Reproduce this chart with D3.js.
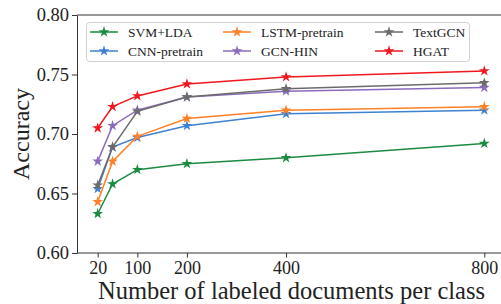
<!DOCTYPE html>
<html>
<head>
<meta charset="utf-8">
<script src="https://d3js.org/d3.v7.min.js"></script>
<style>
  body { margin:0; background:#fff; overflow:hidden; }
  text { font-family: "Liberation Serif", "Times New Roman", serif; }
  .axis path, .axis line { stroke:#333; }
</style>
</head>
<body>
<script>
var sizes = [20, 50, 100, 200, 400, 800];
var xTicks = [20, 100, 200, 400, 800];
var yTicks = [0.60, 0.65, 0.70, 0.75, 0.80];
var names = ["SVM+LDA", "CNN-pretrain", "LSTM-pretrain", "GCN-HIN", "TextGCN", "HGAT"];
var colors = ["#1b8a42", "#3f82cf", "#ff8127", "#8b6bbd", "#6b6b6b", "#f2161f"];
var svmLda   = [0.633, 0.658, 0.670, 0.675, 0.680, 0.692];
var cnnPre   = [0.654, 0.689, 0.697, 0.707, 0.717, 0.720];
var lstmPre  = [0.643, 0.677, 0.698, 0.713, 0.720, 0.723];
var gcnHin   = [0.677, 0.707, 0.720, 0.731, 0.736, 0.739];
var textGcn  = [0.657, 0.689, 0.719, 0.731, 0.738, 0.743];
var hgat     = [0.705, 0.723, 0.732, 0.742, 0.748, 0.753];
var series = [svmLda, cnnPre, lstmPre, gcnHin, textGcn, hgat];

var W = 501, H = 304;
var svg = d3.select("body").append("svg").attr("width", W).attr("height", H);

var x = d3.scaleLinear().domain([20, 800]).range([97.7, 484.3]);
var y = d3.scaleLinear().domain([0.60, 0.80]).range([253, 15]);
var left = 77, right = 510;

var g = svg.append("g");

// axes
g.append("g").attr("class", "axis")
  .attr("transform", "translate(0,253)")
  .call(d3.axisBottom(x).tickValues(xTicks).tickSize(4.5).tickPadding(4).tickSizeOuter(0))
  .call(function(a) {
    a.select(".domain").attr("d", "M" + left + ",0H" + right);
    a.selectAll("text").attr("font-size", 18).attr("fill", "#222");
  });
g.append("g").attr("class", "axis")
  .attr("transform", "translate(" + left + ",0)")
  .call(d3.axisLeft(y).tickValues(yTicks).tickFormat(d3.format(".2f")).tickSize(5).tickPadding(3).tickSizeOuter(0))
  .call(function(a) {
    a.selectAll("text").attr("font-size", 18.5).attr("fill", "#222");
  });
g.append("line").attr("x1", left).attr("x2", right).attr("y1", 15).attr("y2", 15).attr("stroke", "#333");

// star symbol
var star = d3.symbol().type(d3.symbolStar).size(36);

series.forEach(function(vals, i) {
  var pts = sizes.map(function(s, j) { return [s, vals[j]]; });
  g.append("path")
    .attr("d", d3.line().x(function(d) { return x(d[0]); }).y(function(d) { return y(d[1]); })(pts))
    .attr("fill", "none").attr("stroke", colors[i]).attr("stroke-width", 1.5);
  g.selectAll(null).data(pts).enter().append("path")
    .attr("d", star)
    .attr("transform", function(d) { return "translate(" + x(d[0]) + "," + y(d[1]) + ")"; })
    .attr("fill", colors[i]);
});

// legend
var leg = svg.append("g");
leg.append("rect").attr("x", 86.5).attr("y", 22.5).attr("width", 383).attr("height", 39)
  .attr("rx", 3).attr("fill", "#fff").attr("fill-opacity", 0.85).attr("stroke", "#d0d0d0");
var order = [0, 2, 4, 1, 3, 5];
var colX = [90, 223, 375], rowY = [32, 51];
order.forEach(function(si, k) {
  var cx = colX[k % 3], cy = rowY[Math.floor(k / 3)];
  leg.append("line").attr("x1", cx).attr("x2", cx + 28).attr("y1", cy).attr("y2", cy)
    .attr("stroke", colors[si]).attr("stroke-width", 1.5);
  leg.append("path").attr("d", star).attr("transform", "translate(" + (cx + 14) + "," + cy + ")").attr("fill", colors[si]);
  leg.append("text").attr("x", cx + 38).attr("y", cy + 4.8).attr("font-size", 13.5).attr("fill", "#222").text(names[si]);
});

// axis titles
svg.append("text").attr("x", 291.5).attr("y", 299).attr("text-anchor", "middle")
  .attr("font-size", 24.5).attr("fill", "#222").text("Number of labeled documents per class");
svg.append("text").attr("transform", "translate(29,134) rotate(-90)").attr("text-anchor", "middle")
  .attr("font-size", 24).attr("fill", "#222").text("Accuracy");
</script>
</body>
</html>
